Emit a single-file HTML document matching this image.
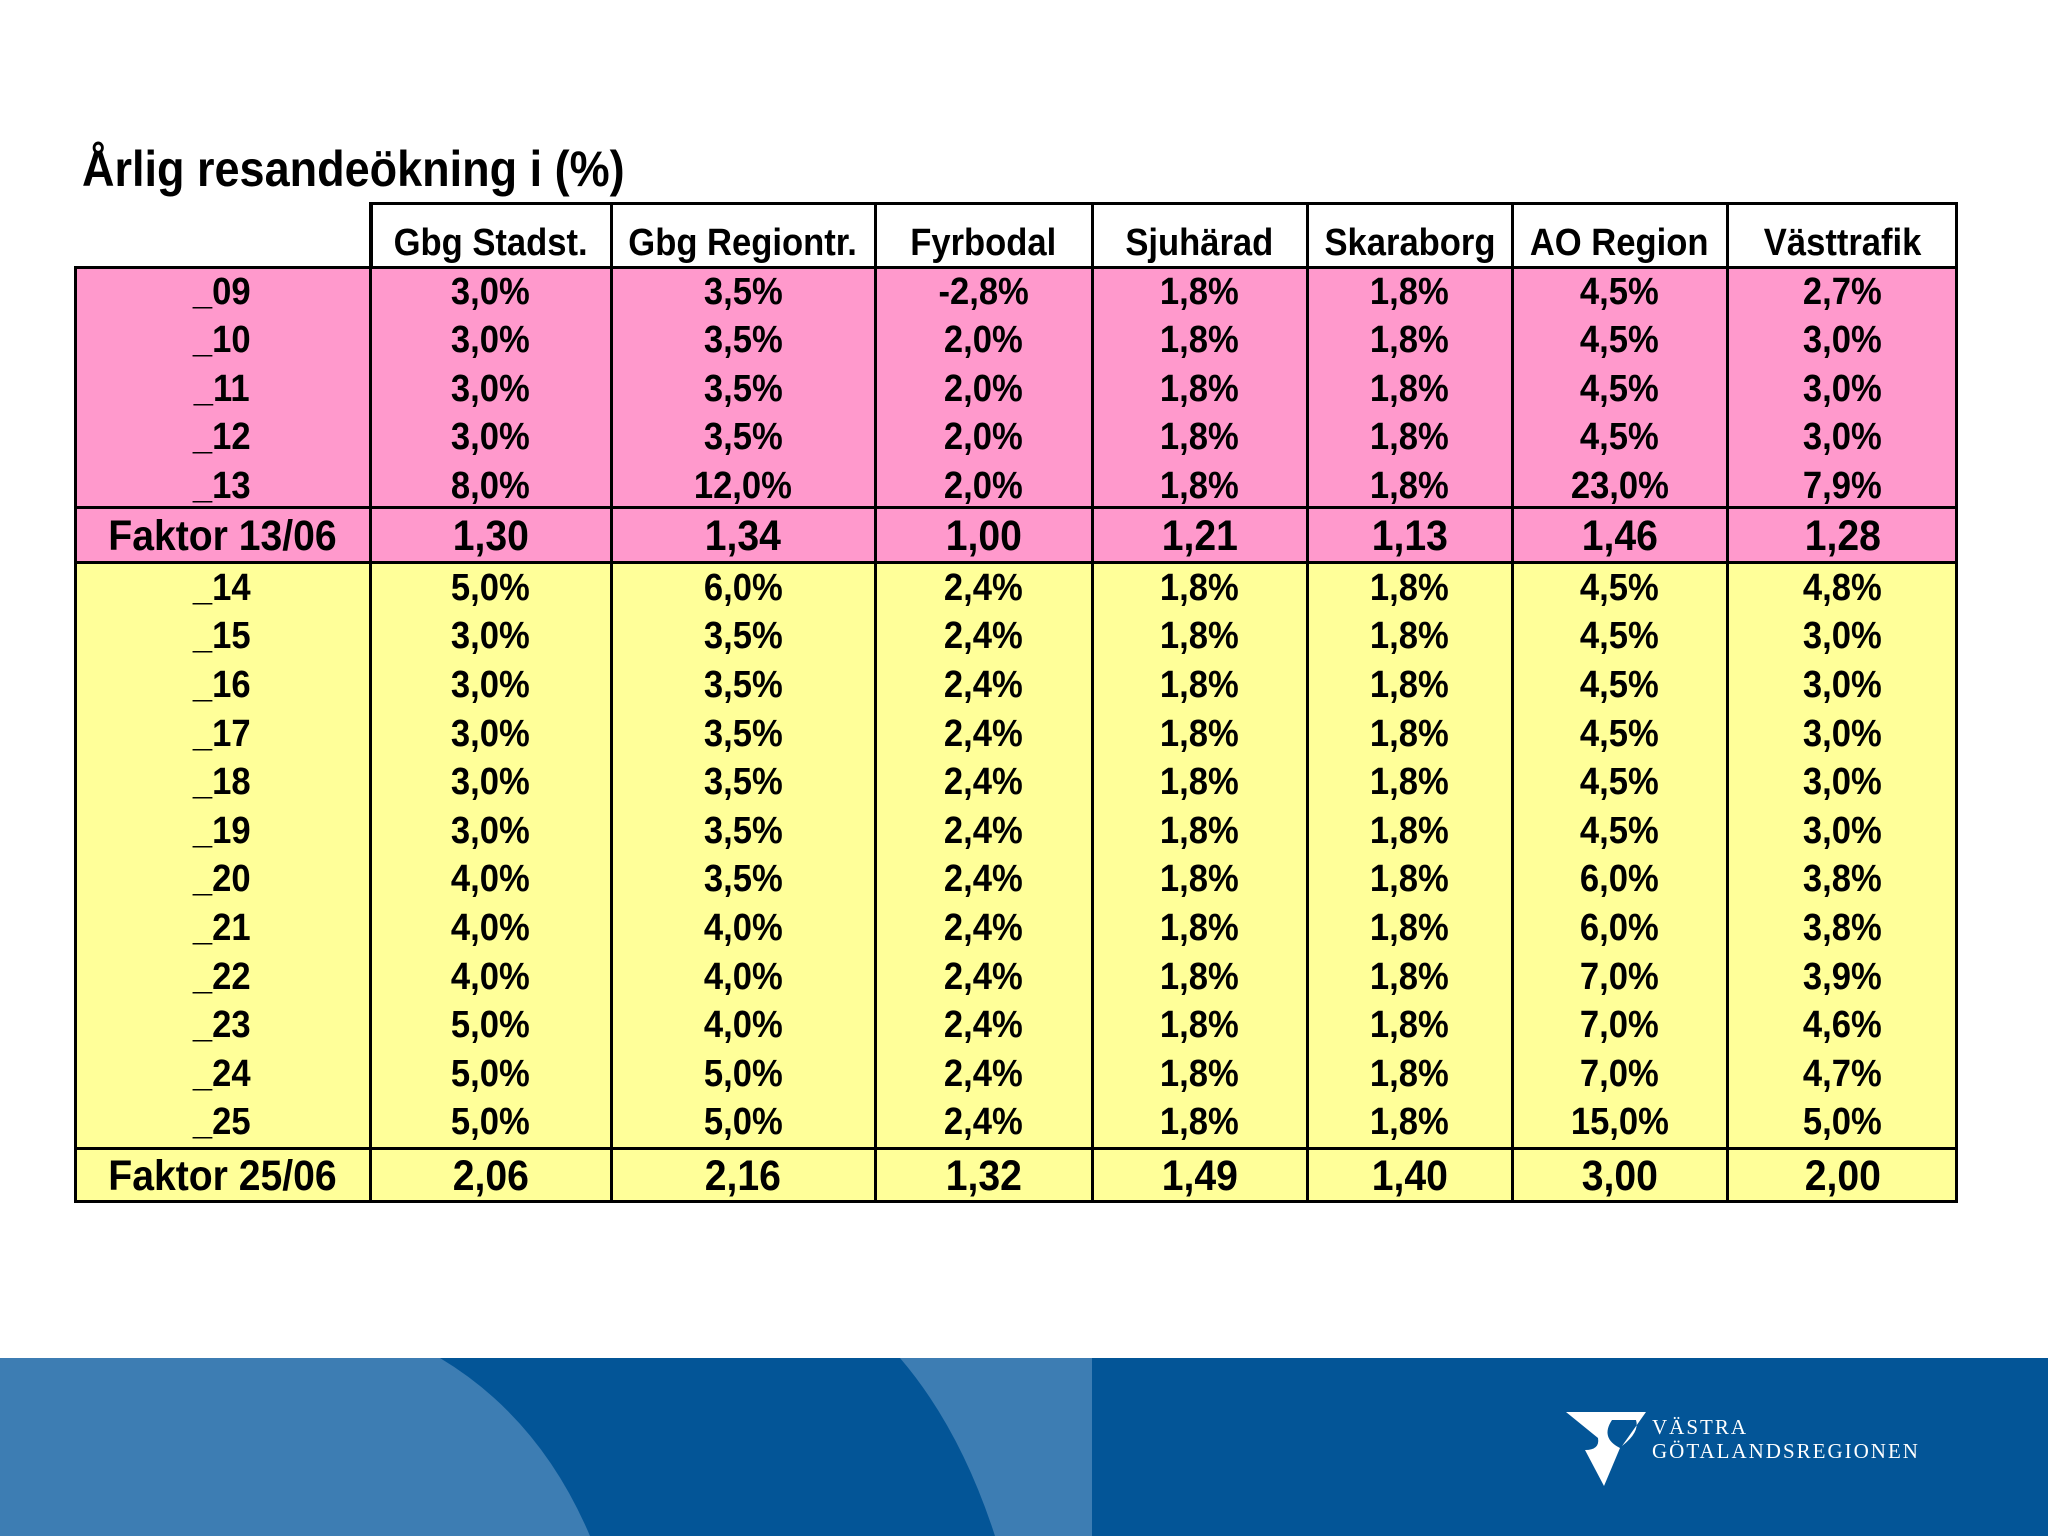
<!DOCTYPE html>
<html><head><meta charset="utf-8">
<style>
body{margin:0;width:2048px;height:1536px;background:#fff;position:relative;overflow:hidden;font-family:"Liberation Sans Narrow","Liberation Sans",sans-serif;}
.c{position:absolute;box-sizing:border-box;display:flex;align-items:center;justify-content:center;font-weight:bold;color:#000;}
.c span{display:inline-block;transform:scaleX(0.91);white-space:nowrap;}
#title{position:absolute;left:82px;top:140px;font-size:50px;font-weight:bold;transform:scaleX(0.9);transform-origin:left center;white-space:nowrap;}
</style></head><body>
<div id="title">Årlig resandeökning i (%)</div>
<div id="tbl"></div>
<svg style="position:absolute;left:0;top:1358px" width="2048" height="178">
<rect width="2048" height="178" fill="#035597"/>
<path d="M0 0 L440 0 Q540 60 590 178 L0 178 Z" fill="#3d7db3"/>
<path d="M900 0 L1092 0 L1092 178 L995 178 Q960 70 900 0 Z" fill="#3d7db3"/>
<g>
<path d="M1566 54 L1646 54 L1622 88 Q1640 74 1636 62 L1612 62 Q1600 80 1620 90 L1604 128 L1585 92 Q1600 92 1598 80 Z" fill="#fff"/>
<text x="1652" y="76" fill="#fff" font-family="Liberation Serif,serif" font-size="21" letter-spacing="2">VÄSTRA</text>
<text x="1652" y="100" fill="#fff" font-family="Liberation Serif,serif" font-size="21" letter-spacing="2">GÖTALANDSREGIONEN</text>
</g>
</svg>
<script>
const columns=["Gbg Stadst.","Gbg Regiontr.","Fyrbodal","Sjuhärad","Skaraborg","AO Region","Västtrafik"];
const rowLabels1=["_09","_10","_11","_12","_13"];
const values1=[
["3,0%","3,5%","-2,8%","1,8%","1,8%","4,5%","2,7%"],
["3,0%","3,5%","2,0%","1,8%","1,8%","4,5%","3,0%"],
["3,0%","3,5%","2,0%","1,8%","1,8%","4,5%","3,0%"],
["3,0%","3,5%","2,0%","1,8%","1,8%","4,5%","3,0%"],
["8,0%","12,0%","2,0%","1,8%","1,8%","23,0%","7,9%"]];
const factor1=["1,30","1,34","1,00","1,21","1,13","1,46","1,28"];
const rowLabels2=["_14","_15","_16","_17","_18","_19","_20","_21","_22","_23","_24","_25"];
const values2=[
["5,0%","6,0%","2,4%","1,8%","1,8%","4,5%","4,8%"],
["3,0%","3,5%","2,4%","1,8%","1,8%","4,5%","3,0%"],
["3,0%","3,5%","2,4%","1,8%","1,8%","4,5%","3,0%"],
["3,0%","3,5%","2,4%","1,8%","1,8%","4,5%","3,0%"],
["3,0%","3,5%","2,4%","1,8%","1,8%","4,5%","3,0%"],
["3,0%","3,5%","2,4%","1,8%","1,8%","4,5%","3,0%"],
["4,0%","3,5%","2,4%","1,8%","1,8%","6,0%","3,8%"],
["4,0%","4,0%","2,4%","1,8%","1,8%","6,0%","3,8%"],
["4,0%","4,0%","2,4%","1,8%","1,8%","7,0%","3,9%"],
["5,0%","4,0%","2,4%","1,8%","1,8%","7,0%","4,6%"],
["5,0%","5,0%","2,4%","1,8%","1,8%","7,0%","4,7%"],
["5,0%","5,0%","2,4%","1,8%","1,8%","15,0%","5,0%"]];
const factor2=["2,06","2,16","1,32","1,49","1,40","3,00","2,00"];
const X=[74,370,611,875,1092,1307,1512,1727,1958];
const T=document.getElementById('tbl');
function box(x,y,w,h,bg,css){const d=document.createElement('div');d.className='c';
d.style.cssText=`left:${x}px;top:${y}px;width:${w}px;height:${h}px;background:${bg};`+(css||'');T.appendChild(d);return d;}
function txt(d,t){const s=document.createElement('span');s.textContent=t;d.appendChild(s);}
let b=box(74,266,1884,243,'#ff99cc','border:3px solid #000;');

b=box(74,506,1884,58,'#ff99cc','border:3px solid #000;');

b=box(74,561,1884,589,'#ffff99','border:3px solid #000;');

b=box(74,1147,1884,56,'#ffff99','border:3px solid #000;');

b=box(370,202,1588,67,'#fff','border:3px solid #000;');

for(let i=1;i<8;i++){const l=box(X[i]-1,202,3,1001,'#000');
}
columns.forEach((c,i)=>{const d=box(X[i+1],206,X[i+2]-X[i+1],62,'transparent','font-size:38px;padding-top:12px;');
txt(d,c);});
function rows(labels,vals,y0,h,name){labels.forEach((lab,r)=>{const y=y0+r*h;
let d=box(X[0],y,X[1]-X[0],h,'transparent','font-size:38px;');txt(d,lab);

vals[r].forEach((v,i)=>{const e=box(X[i+1],y,X[i+2]-X[i+1],h,'transparent','font-size:38px;');txt(e,v);
});});}
rows(rowLabels1,values1,268,48.5,'growth-cell');
rows(rowLabels2,values2,564,48.6,'growth-cell');
function frow(lab,vals,y,h){let d=box(X[0],y,X[1]-X[0],h,'transparent','font-size:43px;');txt(d,lab);

vals.forEach((v,i)=>{const e=box(X[i+1],y,X[i+2]-X[i+1],h,'transparent','font-size:43px;');txt(e,v);
});}
frow('Faktor 13/06',factor1,509,54);
frow('Faktor 25/06',factor2,1149,54);
</script>
</body></html>
